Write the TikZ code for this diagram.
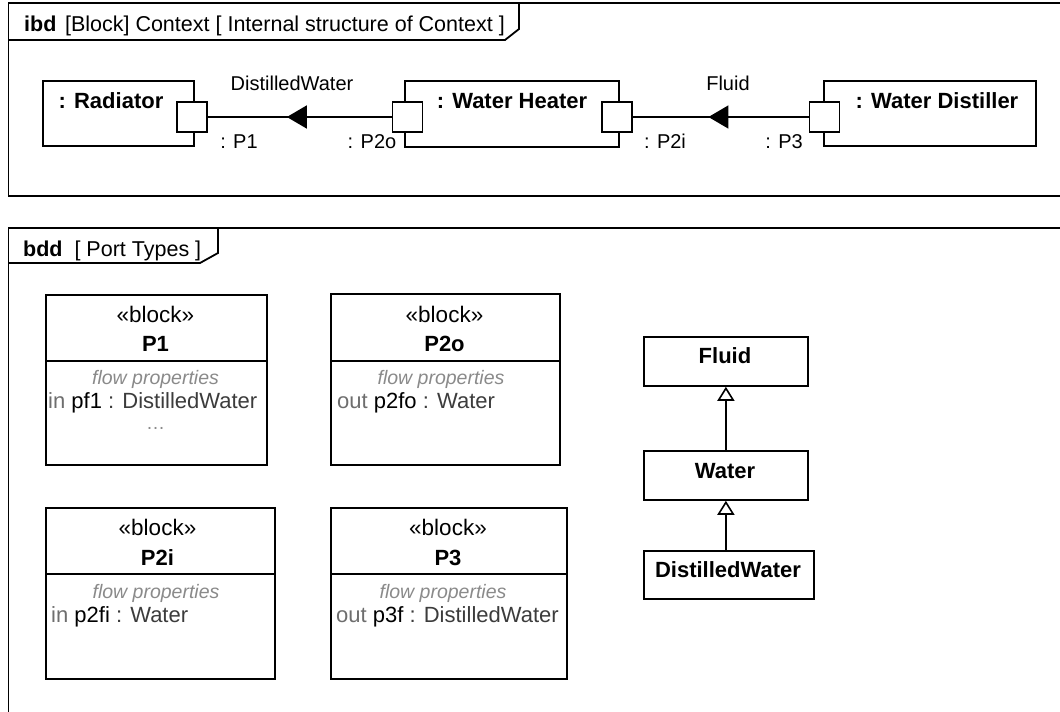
\documentclass[tikz,border=0pt]{standalone}
\usepackage{fontspec}
\setmainfont{Liberation Sans}
\usetikzlibrary{arrows.meta,decorations.markings}
\definecolor{flowgray}{HTML}{8A8A8A}
\definecolor{kwgray}{HTML}{6E6E6E}
\definecolor{typegray}{HTML}{3C3C3C}
\begin{document}
\begin{tikzpicture}[x=1pt,y=-1pt,
  frameline/.style={line width=1.8pt,black},
  blk/.style={draw,line width=1.8pt,fill=white,inner sep=0pt,anchor=north west},
  portbox/.style={draw,line width=1.6pt,fill=white,minimum size=30pt,inner sep=0pt},
  conn/.style={line width=1.8pt},
  lbl/.style={inner sep=0pt,anchor=base,font=\fontsize{20}{24}\selectfont},
  partname/.style={inner sep=0pt,anchor=base,font=\fontsize{22}{26}\selectfont\bfseries},
  stereo/.style={inner sep=0pt,anchor=base,font=\fontsize{22.5}{26}\selectfont},
  flowhdr/.style={inner sep=0pt,anchor=base,font=\fontsize{19.5}{22}\selectfont\itshape,text=flowgray},
  prop/.style={inner sep=0pt,anchor=base west,font=\fontsize{22}{26}\selectfont},
  gen/.style={line width=1.8pt,-{Triangle[open,length=14pt,width=17pt,line width=1.6pt]}},
  midarrow/.style={postaction={decorate},decoration={markings,mark=at position #1 with {\arrow{Triangle[length=20pt,width=23pt]}}}}
]
\useasboundingbox (0,0) rectangle (1060,712);
\clip (0,0) rectangle (1060,712);
\fill[white] (0,0) rectangle (1060,712);

% ---------- ibd frame ----------
\draw[frameline] (1075,3) -- (8.5,3) -- (8.5,196) -- (1075,196);
\draw[frameline] (8.5,40) -- (505,40) -- (519,29) -- (519,3);
\node[inner sep=0pt,anchor=base west,font=\fontsize{21.5}{25}\selectfont] (ibdhdr) at (24,31)
  {\textbf{ibd}\hspace{0.4em}[Block] Context [ Internal structure of Context ]};

% parts
\node[blk,minimum width=151pt,minimum height=65pt] (rad) at (42,80) {};
\node[blk,minimum width=214pt,minimum height=66pt] (heat) at (404,80) {};
\node[blk,minimum width=212pt,minimum height=65pt] (dist) at (823,80) {};
\node[partname] (radname) at (111,108) {: Radiator};
\node[partname] (heatname) at (512,108) {: Water Heater};
\node[partname] (distname) at (937,108) {: Water Distiller};

% ports
\node[portbox] (p1) at (192,117) {};
\node[portbox] (p2o) at (407.5,117) {};
\node[portbox] (p2i) at (617,117) {};
\node[portbox] (p3) at (824.5,117) {};

% connectors
\draw[conn,midarrow=0.57] (p2o.west) -- (p1.east);
\draw[conn,midarrow=0.57] (p3.west) -- (p2i.east);

\node[lbl] (flow1) at (292,90) {DistilledWater};
\node[lbl] (flow2) at (728,90) {Fluid};
\node[lbl] (lp1) at (239,148) {: P1};
\node[lbl] (lp2o) at (372,148) {: P2o};
\node[lbl] (lp2i) at (665,148) {: P2i};
\node[lbl] (lp3) at (784,148) {: P3};

% ---------- bdd frame ----------
\draw[frameline] (1075,228) -- (8.5,228) -- (8.5,725);
\draw[frameline] (8.5,263) -- (200,263) -- (218,253) -- (218,228);
\node[inner sep=0pt,anchor=base west,font=\fontsize{21.5}{25}\selectfont] (bddhdr) at (23,256)
  {\textbf{bdd}\ \ [ Port Types ]};

% block P1
\node[blk,minimum width=221pt,minimum height=170pt] (bP1) at (45,294) {};
\draw[line width=1.6pt] (45,361) -- (266,361);
\node[stereo] (bP1s) at (155.5,322) {«block»};
\node[partname] (bP1n) at (155.5,351) {P1};
\node[flowhdr] (bP1f) at (155.5,384) {flow properties};
\node[prop] (bP1p) at (48,408) {\textcolor{kwgray}{in} pf1 \textcolor{typegray}{: DistilledWater}};
\node[inner sep=0pt,anchor=base,font=\fontsize{19}{22}\selectfont,text=flowgray] (bP1e) at (155.5,429) {…};

% block P2o
\node[blk,minimum width=229pt,minimum height=171pt] (bP2o) at (330,293) {};
\draw[line width=1.6pt] (330,361) -- (559,361);
\node[stereo] (bP2os) at (444.5,322) {«block»};
\node[partname] (bP2on) at (444.5,351) {P2o};
\node[flowhdr] (bP2of) at (441,384) {flow properties};
\node[prop] (bP2op) at (337,408) {\textcolor{kwgray}{out} p2fo \textcolor{typegray}{: Water}};

% block P2i
\node[blk,minimum width=229pt,minimum height=171pt] (bP2i) at (45,507) {};
\draw[line width=1.6pt] (45,574) -- (274,574);
\node[stereo] (bP2is) at (157.5,535) {«block»};
\node[partname] (bP2in) at (157.5,565) {P2i};
\node[flowhdr] (bP2if) at (156,598) {flow properties};
\node[prop] (bP2ip) at (51,622) {\textcolor{kwgray}{in} p2fi \textcolor{typegray}{: Water}};

% block P3
\node[blk,minimum width=236pt,minimum height=171pt] (bP3) at (330,507) {};
\draw[line width=1.6pt] (330,574) -- (566,574);
\node[stereo] (bP3s) at (448,535) {«block»};
\node[partname] (bP3n) at (448,565) {P3};
\node[flowhdr] (bP3f) at (443,598) {flow properties};
\node[prop] (bP3p) at (336,622) {\textcolor{kwgray}{out} p3f \textcolor{typegray}{: DistilledWater}};

% generalization hierarchy
\node[blk,minimum width=164pt,minimum height=49pt] (fluid) at (643,336) {};
\node[blk,minimum width=164pt,minimum height=49pt] (water) at (643,450) {};
\node[blk,minimum width=170pt,minimum height=48pt] (dwater) at (643,550) {};
\node[partname] (fluidn) at (725,363) {Fluid};
\node[partname] (watern) at (725,478) {Water};
\node[partname] (dwatern) at (728,577) {DistilledWater};
\draw[gen] (water.north -| fluid.south) -- (fluid.south);
\draw[gen] (dwater.north -| water.south) -- (water.south);

\end{tikzpicture}
\end{document}
